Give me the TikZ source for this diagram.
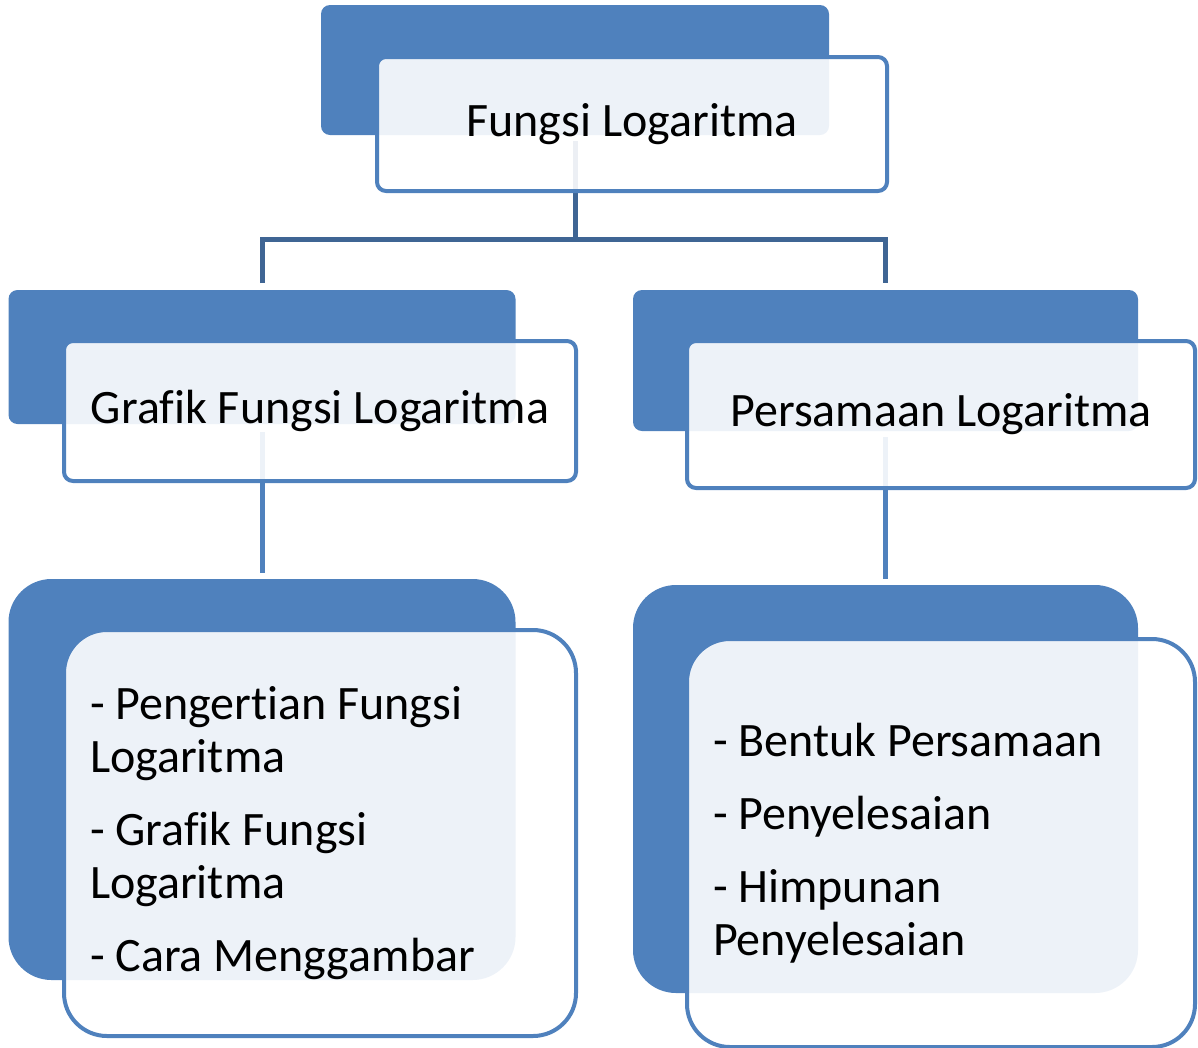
\documentclass[tikz,border=0pt]{standalone}
\usepackage{fontspec}
\setmainfont{Carlito}[Ligatures={NoCommon}]
\definecolor{accentblue}{HTML}{4F81BD}
\definecolor{linkblue}{HTML}{3F6594}
\tikzset{
    backbox/.style={rectangle, rounded corners=9pt, fill=accentblue, inner sep=0pt, outer sep=0pt},
    roundback/.style={rounded corners=43pt},
    frontbox/.style={rectangle, rounded corners=9pt, draw=accentblue, line width=4pt,
        fill=white, fill opacity=0.9, text opacity=1, text=black, inner sep=0pt,
        font=\fontsize{48}{53}\selectfont},
    listbox/.style={frontbox, rounded corners=43pt, align=flush left, inner xsep=26pt},
    toplink/.style={draw=linkblue, line width=5pt},
    sublink/.style={draw=accentblue, line width=5pt}
}

\begin{document}
\begin{tikzpicture}[x=1pt,y=-1pt]
    \useasboundingbox (0,0) rectangle (1198,1047);
    % back boxes
    \node[backbox, minimum width=508pt, minimum height=130pt] (rootback) at (575,70) {};
    \node[backbox, minimum width=507pt, minimum height=134pt] (graphback) at (262,357) {};
    \node[backbox, minimum width=505pt, minimum height=141pt] (eqback) at (885.5,360.5) {};
    \node[backbox, roundback, minimum width=507pt, minimum height=401pt] (graphlistback) at (262,779.5) {};
    \node[backbox, roundback, minimum width=505pt, minimum height=408pt] (eqlistback) at (885.5,789) {};
    % connectors
    \coordinate (fork) at (575,239.5);
    \draw[toplink, shorten <=6pt] (rootback.south) -- (fork);
    \draw[toplink, shorten <=7pt, shorten >=7pt] (graphback.north) |- (fork) -| (eqback.north);
    \draw[sublink, shorten <=8pt, shorten >=6pt] (graphback.south) -- (graphlistback.north);
    \draw[sublink, shorten <=6pt, shorten >=6pt] (eqback.south) -- (eqlistback.north);
    % front boxes
    \node[frontbox, minimum width=510pt, minimum height=134pt] (rootfront) at (632,124) {Fungsi Logaritma};
    \node[frontbox, minimum width=512pt, minimum height=140pt] (graphfront) at (320,411) {Grafik Fungsi Logaritma};
    \node[frontbox, minimum width=508pt, minimum height=147pt] (eqfront) at (941,414.5) {Persamaan Logaritma};
    \node[listbox, text width=460pt, minimum height=406pt] (graphlist) at (320,833)
        {- Pengertian Fungsi\\ Logaritma\\[20pt] - Grafik Fungsi\\ Logaritma\\[20pt] - Cara Menggambar};
    \node[listbox, text width=456pt, minimum height=408pt] (eqlist) at (941,843)
        {- Bentuk Persamaan\\[20pt] - Penyelesaian\\[20pt] - Himpunan\\ Penyelesaian};
\end{tikzpicture}
\end{document}
